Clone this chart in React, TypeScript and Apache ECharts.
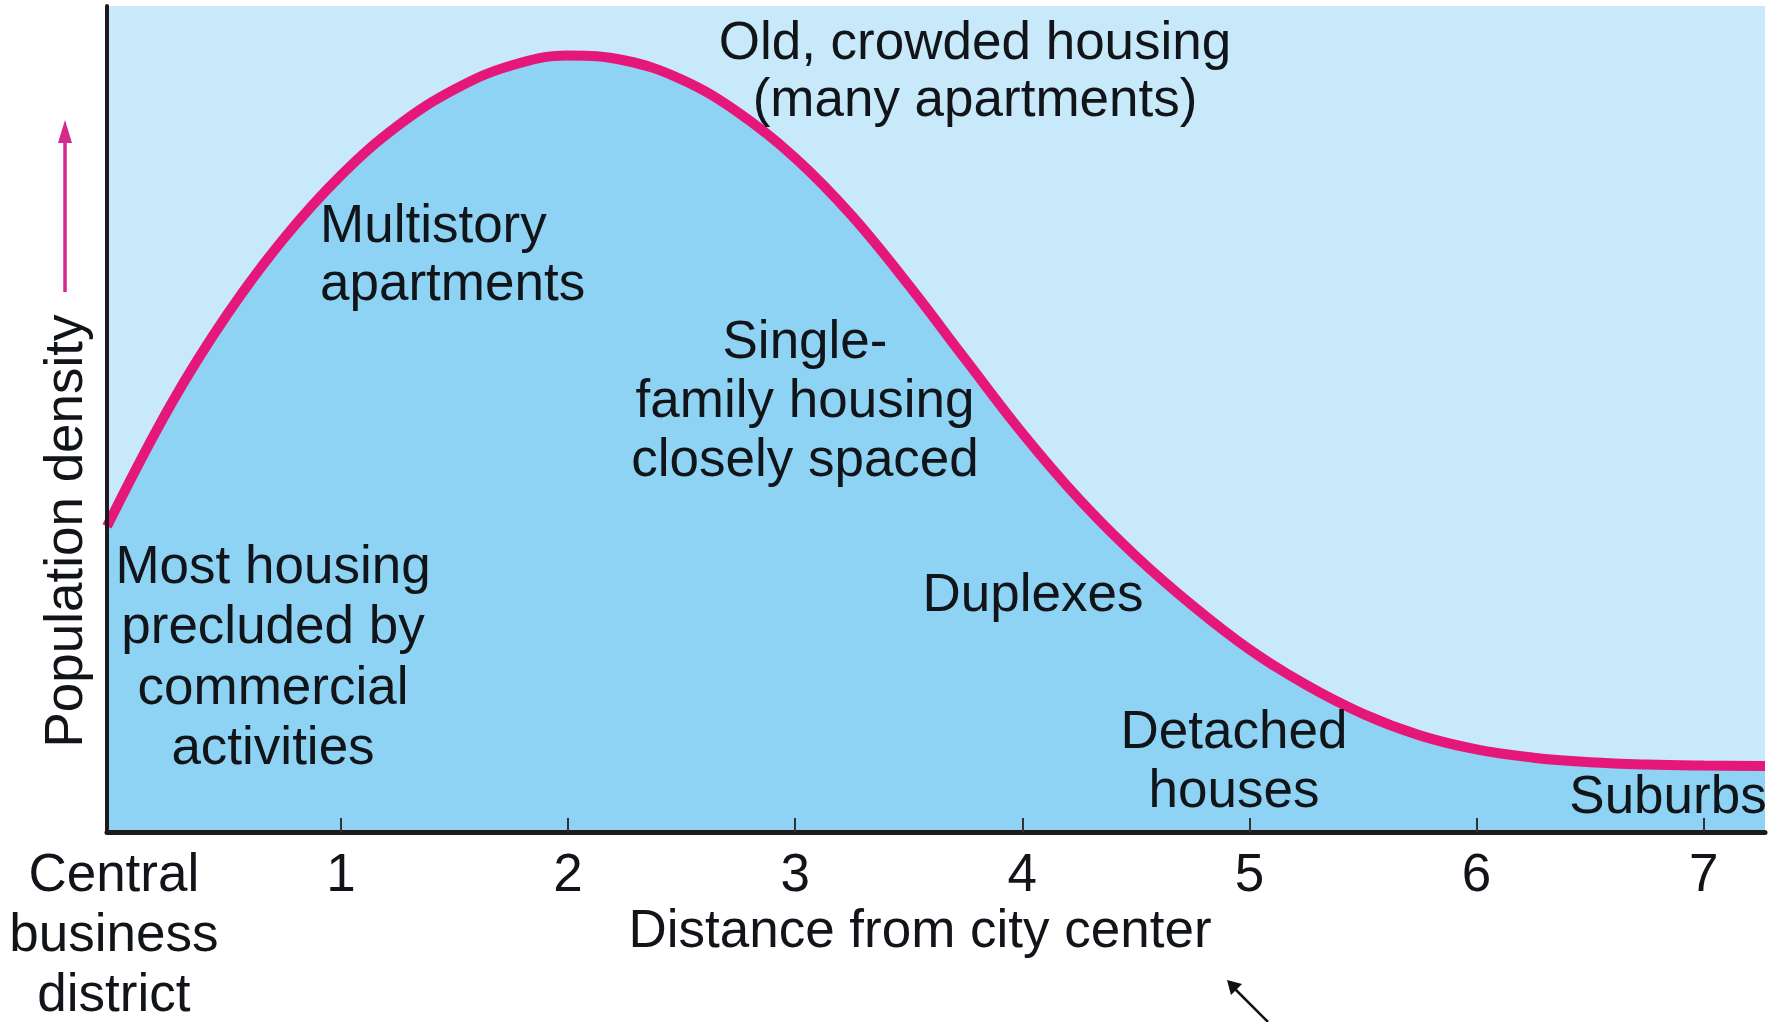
import React, { useEffect, useRef } from "react";
import * as echarts from "echarts";

// Distance from city center (data units) and relative population density (0-100)
const distance = [-0.03, 0.25, 0.5, 0.75, 1.0, 1.25, 1.5, 1.75, 2.0, 2.25, 2.5, 2.75, 3.0, 3.25, 3.5, 3.75, 4.0, 4.25, 4.5, 4.75, 5.0, 5.25, 5.5, 5.75, 6.0, 6.25, 6.5, 6.75, 7.0, 7.27];
const density = [37, 51.7, 62.7, 71.9, 79.5, 85.5, 89.9, 92.8, 94.0, 93.4, 91.1, 87.1, 81.6, 74.6, 66.2, 57.2, 48.3, 40.3, 33.4, 27.4, 22.1, 17.8, 14.3, 11.7, 10.0, 9.0, 8.45, 8.17, 8.05, 8.0];

const tickValues = [0, 1, 2, 3, 4, 5, 6, 7];
const tickLabels = ["Central\nbusiness\ndistrict", "1", "2", "3", "4", "5", "6", "7"];

const zoneLabels = [
  "Old, crowded housing\n(many apartments)",
  "Multistory\napartments",
  "Single-\nfamily housing\nclosely spaced",
  "Most housing\nprecluded by\ncommercial\nactivities",
  "Duplexes",
  "Detached\nhouses",
  "Suburbs",
];

const FONT = '"Liberation Sans", Arial, Helvetica, sans-serif';
const TEXT = "#111418";

export default function App() {
  const ref = useRef<HTMLDivElement>(null);
  useEffect(() => {
    if (!ref.current) return;
    const chart = echarts.init(ref.current, null, { renderer: "svg" });
    const pts = distance.map((d, i) => [d, density[i]]);
    const txt = (text: string, x: number, y: number, align: string, lh: number) => ({
      type: "text",
      x,
      y,
      z: 20,
      style: {
        text,
        fill: TEXT,
        fontSize: 53,
        fontFamily: FONT,
        align,
        verticalAlign: "middle",
        lineHeight: lh,
      },
    });
    chart.setOption({
      animation: false,
      backgroundColor: "#ffffff",
      grid: {
        left: 107,
        top: 6,
        width: 1658,
        height: 828,
        show: true,
        backgroundColor: "#c7e9f9",
        borderWidth: 0,
      },
      xAxis: {
        type: "value",
        min: -0.03,
        max: 7.27,
        z: 10,
        splitLine: { show: false },
        axisLine: { show: true, onZero: false, lineStyle: { color: "#1c1a1a", width: 5 } },
        axisTick: {
          show: true,
          inside: true,
          length: 14,
          customValues: [1, 2, 3, 4, 5, 6, 7],
          lineStyle: { color: "#333", width: 2 },
        },
        axisLabel: {
          customValues: tickValues,
          formatter: (v: number) => {
            const i = tickValues.indexOf(Math.round(v * 1000) / 1000);
            return i >= 0 ? tickLabels[i] : "";
          },
          fontSize: 53,
          fontFamily: FONT,
          color: TEXT,
          lineHeight: 60,
          verticalAlign: "top",
          margin: 10,
        },
      },
      yAxis: {
        type: "value",
        min: 0,
        max: 100,
        z: 10,
        splitLine: { show: false },
        axisLine: { show: true, onZero: false, lineStyle: { color: "#1c1a1a", width: 4 } },
        axisTick: { show: false },
        axisLabel: { show: false },
      },
      series: [
        {
          type: "line",
          data: pts,
          smooth: 0.4,
          symbol: "none",
          lineStyle: { color: "#e6177b", width: 10 },
          areaStyle: { color: "#8ed3f3", opacity: 1, origin: "start" },
          z: 3,
        },
      ],
      graphic: [
        txt(zoneLabels[0], 975, 69, "center", 57),
        txt(zoneLabels[1], 320, 252, "left", 58),
        txt(zoneLabels[2], 805, 398, "center", 59),
        txt(zoneLabels[3], 273, 655, "center", 60.5),
        txt(zoneLabels[4], 1033, 592, "center", 60),
        txt(zoneLabels[5], 1234, 759, "center", 59),
        txt(zoneLabels[6], 1668, 794, "center", 60),
        txt("Distance from city center", 920, 928, "center", 60),
        {
          type: "text",
          x: 63,
          y: 531,
          rotation: Math.PI / 2,
          z: 20,
          style: {
            text: "Population density",
            fill: TEXT,
            fontSize: 53,
            fontFamily: FONT,
            align: "center",
            verticalAlign: "middle",
          },
        },
        {
          type: "line",
          z: 20,
          shape: { x1: 65, y1: 292, x2: 65, y2: 138 },
          style: { stroke: "#d42a8c", lineWidth: 3.5 },
        },
        {
          type: "polygon",
          z: 20,
          shape: { points: [[65, 120], [58, 143], [72, 143]] },
          style: { fill: "#d42a8c" },
        },
        {
          type: "line",
          z: 20,
          shape: { x1: 1268, y1: 1022, x2: 1234, y2: 988 },
          style: { stroke: "#111", lineWidth: 2.5 },
        },
        {
          type: "polygon",
          z: 20,
          shape: { points: [[1227, 980], [1231, 995], [1242, 984]] },
          style: { fill: "#111" },
        },
      ],
    });
    return () => chart.dispose();
  }, []);
  return (
    <div
      ref={ref}
      style={{ position: "absolute", left: 0, top: 0, width: 1791, height: 1022, background: "#fff" }}
    />
  );
}
